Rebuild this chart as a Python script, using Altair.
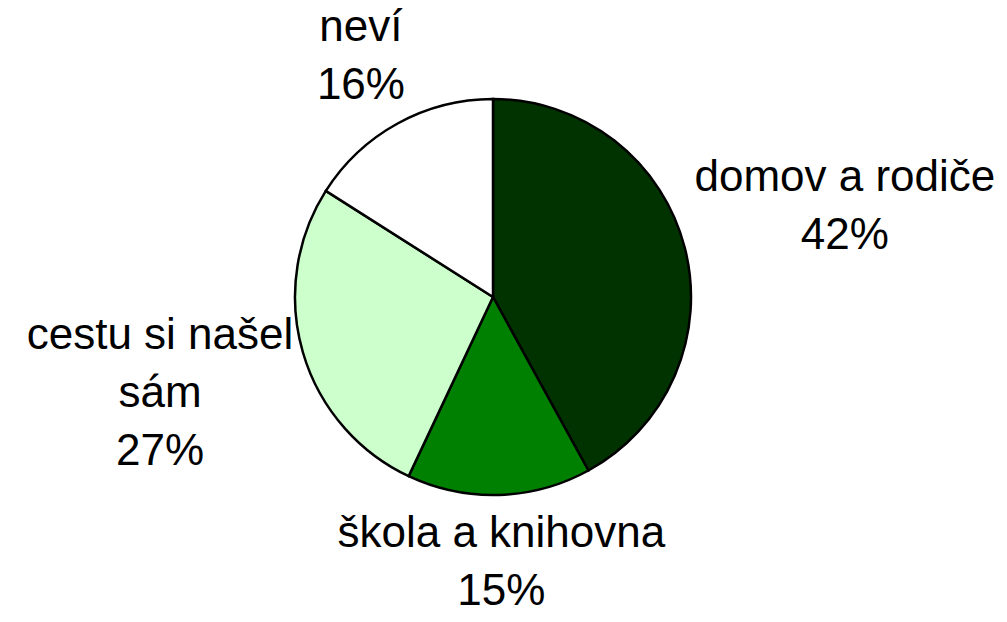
import math
import altair as alt
import pandas as pd

categories = ["domov a rodiče", "škola a knihovna", "cestu si našel sám", "neví"]
label_lines = [["domov a rodiče"], ["škola a knihovna"], ["cestu si našel", "sám"], ["neví"]]
percents = [42, 15, 27, 16]
colors = ["#003300", "#008000", "#CCFFCC", "#FFFFFF"]

FONT_SIZE = 44
LINE_H = 58
PIE_R = 198
GAP = 10

# Arial / Liberation Sans advance widths (per em) for measuring label boxes
_W = {" ": .278, "a": .556, "c": .5, "d": .556, "e": .556, "h": .556, "i": .222,
      "k": .5, "l": .222, "m": .833, "n": .556, "o": .556, "r": .333, "s": .5,
      "t": .278, "u": .556, "v": .5, "í": .278, "á": .556, "č": .5, "š": .5,
      "%": .889}


def text_width(s):
    return sum(_W.get(ch, .556) for ch in s) * FONT_SIZE


total = sum(percents)
rows = []
cum = 0
for i, (cat, lines, p) in enumerate(zip(categories, label_lines, percents)):
    mid = (cum + p / 2) / total * 2 * math.pi
    cum += p
    all_lines = lines + [f"{p}%"]
    n = len(all_lines)
    w = max(text_width(s) for s in all_lines)
    h = n * LINE_H
    s, c = abs(math.sin(mid)), abs(math.cos(mid))
    ext = min(w / 2 / s if s > 1e-6 else 1e9, h / 2 / c if c > 1e-6 else 1e9)
    d = PIE_R + GAP + ext
    # block centre relative to pie centre (screen coords, y down)
    cx, cy = d * math.sin(mid), -d * math.cos(mid)
    # Vega anchors a multi-line text at its first line: shift anchor up
    ax, ay = cx, cy - (n - 1) / 2 * LINE_H
    ang = math.atan2(ax, -ay) % (2 * math.pi)
    rows.append({
        "idx": i,
        "cat": cat,
        "pct": p,
        "label": "\n".join(all_lines),
        "lpos": ang / (2 * math.pi) * total,
        "lr": math.hypot(ax, ay),
    })
df = pd.DataFrame(rows)

theta_scale = alt.Scale(domain=[0, total])

base = alt.Chart(df)

pie = base.mark_arc(outerRadius=PIE_R, stroke="black", strokeWidth=2.5).encode(
    theta=alt.Theta("pct:Q", stack=True, scale=theta_scale),
    color=alt.Color("cat:N", scale=alt.Scale(domain=categories, range=colors), legend=None),
    order=alt.Order("idx:Q", sort="ascending"),
)

text = base.mark_text(
    font="Liberation Sans", fontSize=FONT_SIZE, lineHeight=LINE_H, lineBreak="\n",
    align="center", baseline="middle", color="black",
).encode(
    theta=alt.Theta("lpos:Q", stack=False, scale=theta_scale),
    radius=alt.Radius("lr:Q", scale=None, stack=False),
    text="label:N",
)

chart = (pie + text).properties(
    width=970, height=578,
    autosize=alt.AutoSizeParams(type="none"),
    padding={"left": 0, "top": 0, "right": 21, "bottom": 28},
    background="white",
).configure_view(stroke=None)

chart.save("out.html", embed_options={"renderer": "svg", "actions": False})
